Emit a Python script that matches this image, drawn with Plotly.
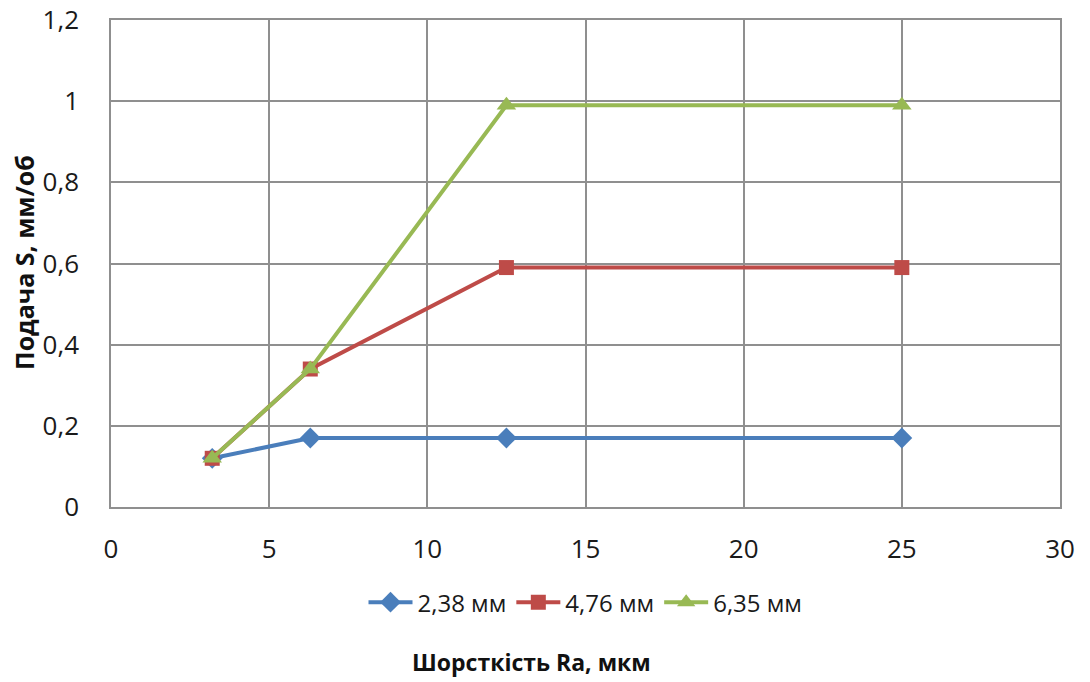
import plotly.graph_objects as go

ra = [3.2, 6.3, 12.5, 25]
s_238 = [0.12, 0.17, 0.17, 0.17]
s_476 = [0.12, 0.34, 0.59, 0.59]
s_635 = [0.12, 0.34, 0.99, 0.99]
names = ["2,38 мм", "4,76 мм", "6,35 мм"]
colors = ["#4a7ebb", "#be4b48", "#98b954"]
symbols = ["diamond", "square", "triangle-up"]
msizes = [16, 15, 17]
series = [s_238, s_476, s_635]

FONT = "Open Sans"

fig = go.Figure()
for ys, nm, c, sym, ms in zip(series, names, colors, symbols, msizes):
    fig.add_trace(go.Scatter(
        x=ra, y=ys, name=nm, mode="lines+markers",
        line=dict(color=c, width=4),
        marker=dict(symbol=sym, size=ms, color=c, line=dict(width=0)),
    ))

grid = "#8f8f8f"
fig.update_layout(
    width=1090, height=682,
    margin=dict(l=111, r=30, t=20, b=175, autoexpand=False),
    paper_bgcolor="white", plot_bgcolor="white",
    separators=", ",
    font=dict(family=FONT, size=23, color="#1a1a1a"),
    showlegend=True,
    legend=dict(orientation="h", x=0.5, xanchor="center", y=-0.15, yanchor="top",
                font=dict(size=24, family=FONT), itemwidth=44, tracegroupgap=0),
    xaxis=dict(range=[0, 30], dtick=5, tick0=0, showgrid=True, gridcolor=grid, gridwidth=1.5,
               showline=True, linecolor=grid, linewidth=1.5, mirror=True, zeroline=False,
               automargin=False,
               ticks="", ticklabelstandoff=18, tickfont=dict(size=26)),
    yaxis=dict(range=[0, 1.2], dtick=0.2, tick0=0, showgrid=True, gridcolor=grid, gridwidth=1.5,
               showline=True, linecolor=grid, linewidth=1.5, mirror=True, zeroline=False,
               automargin=False,
               ticks="", ticklabelstandoff=25, tickfont=dict(size=26),
               tickformat=".1~f"),
    annotations=[
        dict(text="<b>Шорсткість Ra, мкм</b>", xref="paper", yref="paper",
             x=(531 - 111) / 949, y=-(662 - 507) / 487, xanchor="center", yanchor="middle",
             showarrow=False, font=dict(size=23, family=FONT, color="#111111")),
        dict(text="<b>Подача S, мм/об</b>", xref="paper", yref="paper",
             x=-(111 - 24) / 949, y=(507 - 263) / 487, xanchor="center", yanchor="middle",
             textangle=-90, showarrow=False, font=dict(size=25, family=FONT, color="#111111")),
    ],
)

fig.write_html("out.html")
